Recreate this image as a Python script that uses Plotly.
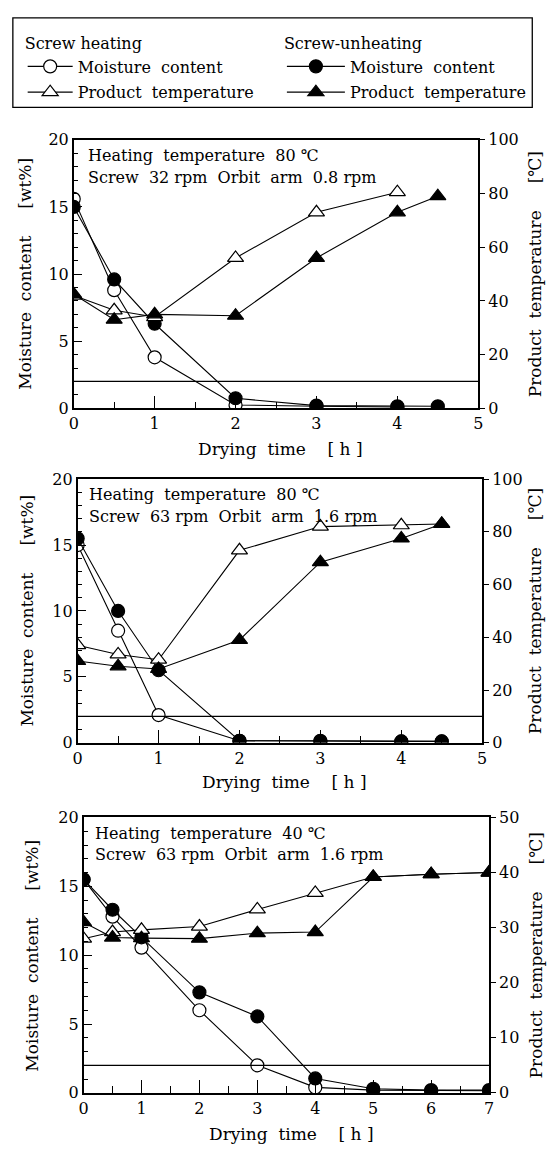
import plotly.graph_objects as go

# ---------------- data ----------------
# Panel 1: heating 80 C, screw 32 rpm, orbit arm 0.8 rpm
time_p1_heat = [0, 0.5, 1, 2, 3, 4]
moist_p1_heat = [15.6, 8.8, 3.8, 0.25, 0.15, 0.1]
temp_p1_heat = [42, 36.5, 34, 56, 73, 80.5]
time_p1_unheat = [0, 0.5, 1, 2, 3, 4, 4.5]
moist_p1_unheat = [15.0, 9.6, 6.3, 0.75, 0.2, 0.15, 0.15]
temp_p1_unheat = [42.5, 33, 35, 34.5, 56, 73, 79]

# Panel 2: heating 80 C, screw 63 rpm, orbit arm 1.6 rpm
time_p2_heat = [0, 0.5, 1, 2, 3, 4, 4.5]
moist_p2_heat = [15.0, 8.5, 2.1, 0.15, 0.1, 0.1, 0.1]
temp_p2_heat = [37, 33.5, 31.5, 73, 82, 82.5, 83]
time_p2_unheat = [0, 0.5, 1, 2, 3, 4, 4.5]
moist_p2_unheat = [15.5, 10.0, 5.5, 0.15, 0.15, 0.1, 0.1]
temp_p2_unheat = [31, 29, 28, 39, 68.5, 77.5, 83]

# Panel 3: heating 40 C, screw 63 rpm, orbit arm 1.6 rpm
time_p3_heat = [0, 0.5, 1, 2, 3, 4, 5, 6, 7]
moist_p3_heat = [15.5, 12.8, 10.55, 6.0, 2.0, 0.4, 0.2, 0.15, 0.15]
temp_p3_heat = [28, 29.2, 29.6, 30.2, 33.3, 36.3, 39.2, 39.7, 40]
time_p3_unheat = [0, 0.5, 1, 2, 3, 4, 5, 6, 7]
moist_p3_unheat = [15.5, 13.3, 11.3, 7.3, 5.55, 1.05, 0.3, 0.2, 0.2]
temp_p3_unheat = [31, 28.2, 28.1, 28, 29, 29.2, 39.2, 39.7, 40]

target_moisture = 2  # wt%

moisture_ticks = [0, 5, 10, 15, 20]
temp_ticks_80 = [0, 20, 40, 60, 80, 100]
temp_ticks_40 = [0, 10, 20, 30, 40, 50]
time_ticks_5 = [0, 1, 2, 3, 4, 5]
time_ticks_7 = [0, 1, 2, 3, 4, 5, 6, 7]

cond_lines = [
    ("Heating\u00a0 temperature\u00a0 80 \u2103", "Screw\u00a0 32 rpm\u00a0 Orbit\u00a0 arm\u00a0 0.8 rpm"),
    ("Heating\u00a0 temperature\u00a0 80 \u2103", "Screw\u00a0 63 rpm\u00a0 Orbit\u00a0 arm\u00a0 1.6 rpm"),
    ("Heating\u00a0 temperature\u00a0 40 \u2103", "Screw\u00a0 63 rpm\u00a0 Orbit\u00a0 arm\u00a0 1.6 rpm"),
]
legend_title_heat = "Screw heating"
legend_title_unheat = "Screw-unheating"
name_moist = "Moisture\u00a0 content"
name_temp = "Product\u00a0 temperature"
xlabel = "Drying\u00a0 time\u00a0\u00a0\u00a0 [ h ]"
ylabel_left = "Moisture\u00a0 content\u00a0\u00a0\u00a0\u00a0 [wt%]"
ylabel_right = "Product\u00a0 temperature\u00a0\u00a0\u00a0\u00a0 [\u2103]"

# ---------------- layout geometry (pixels) ----------------
W, H = 552, 1156
FONT = "DejaVu Serif"


def fx(px):
    return px / W


def fy(py):
    return 1 - py / H


panels = [
    dict(x0=70, x1=482, y0=133, y1=406, xmax=5, tmax=100,
         xt=time_ticks_5, tt=temp_ticks_80, xlab_y=447, ltx=20, rtx=540, condx=82, condy=149),
    dict(x0=74, x1=486, y0=478, y1=746, xmax=5, tmax=100,
         xt=time_ticks_5, tt=temp_ticks_80, xlab_y=786, ltx=22, rtx=540, condx=84, condy=494),
    dict(x0=80, x1=493, y0=822, y1=1102, xmax=7, tmax=50,
         xt=time_ticks_7, tt=temp_ticks_40, xlab_y=1144, ltx=28, rtx=541, condx=90, condy=838),
]

series = [
    (time_p1_heat, moist_p1_heat, temp_p1_heat, time_p1_unheat, moist_p1_unheat, temp_p1_unheat),
    (time_p2_heat, moist_p2_heat, temp_p2_heat, time_p2_unheat, moist_p2_unheat, temp_p2_unheat),
    (time_p3_heat, moist_p3_heat, temp_p3_heat, time_p3_unheat, moist_p3_unheat, temp_p3_unheat),
]

fig = go.Figure()
line_style = dict(color="black", width=1.1)
tickfont = dict(family=FONT, size=16, color="black")

layout_axes = {}
annotations = []
shapes = []

for i, (p, s) in enumerate(zip(panels, series)):
    xn = "" if i == 0 else str(i + 1)
    yl = "" if i == 0 else str(2 * i + 1)
    yr = str(2 * i + 2)
    th, mh, tph, tu, mu, tpu = s
    show = i == 0

    fig.add_trace(go.Scatter(
        x=th, y=mh, mode="lines+markers", name=name_moist, legend="legend", showlegend=show,
        legendgroup="hm", line=line_style,
        marker=dict(symbol="circle", size=13, color="white", line=dict(color="black", width=1.2)),
        xaxis="x" + xn, yaxis="y" + yl))
    fig.add_trace(go.Scatter(
        x=tu, y=mu, mode="lines+markers", name=name_moist, legend="legend2", showlegend=show,
        legendgroup="um", line=line_style,
        marker=dict(symbol="circle", size=13, color="black", line=dict(color="black", width=1.2)),
        xaxis="x" + xn, yaxis="y" + yl))
    fig.add_trace(go.Scatter(
        x=th, y=tph, mode="lines+markers", name=name_temp, legend="legend", showlegend=show,
        legendgroup="ht", line=line_style,
        marker=dict(symbol="triangle-up", size=14, color="white", line=dict(color="black", width=1.2)),
        xaxis="x" + xn, yaxis="y" + yr))
    fig.add_trace(go.Scatter(
        x=tu, y=tpu, mode="lines+markers", name=name_temp, legend="legend2", showlegend=show,
        legendgroup="ut", line=line_style,
        marker=dict(symbol="triangle-up", size=14, color="black", line=dict(color="black", width=1.2)),
        xaxis="x" + xn, yaxis="y" + yr))

    xdom = [fx(p["x0"]), fx(p["x1"])]
    ydom = [fy(p["y1"]), fy(p["y0"])]
    layout_axes["xaxis" + xn] = dict(
        domain=xdom, anchor="y" + yl, range=[0, p["xmax"]], tickvals=p["xt"],
        ticks="inside", ticklen=13, tickwidth=1.3, tickcolor="black",
        minor=dict(dtick=0.5, ticks="inside", ticklen=7, tickwidth=1.2, tickcolor="black"),
        showline=True, linecolor="black", linewidth=1.5, mirror=True,
        showgrid=False, zeroline=False, tickfont=tickfont, fixedrange=True)
    layout_axes["yaxis" + yl] = dict(
        domain=ydom, anchor="x" + xn, range=[0, 20], tickvals=moisture_ticks,
        ticks="inside", ticklen=9, tickwidth=1.3, tickcolor="black",
        minor=dict(dtick=1, ticks="inside", ticklen=5, tickwidth=1.1, tickcolor="black"),
        showline=True, linecolor="black", linewidth=1.5,
        showgrid=False, zeroline=False, tickfont=tickfont, fixedrange=True)
    layout_axes["yaxis" + yr] = dict(
        overlaying="y" + yl, anchor="x" + xn, side="right", range=[0, p["tmax"]], tickvals=p["tt"],
        ticks="outside", ticklen=5, tickwidth=1.3, tickcolor="black",
        showline=True, linecolor="black", linewidth=1.5,
        showgrid=False, zeroline=False, tickfont=tickfont, fixedrange=True)

    # target moisture line
    shapes.append(dict(type="line", xref="x" + xn + " domain", yref="y" + yl,
                       x0=0, x1=1, y0=target_moisture, y1=target_moisture,
                       line=dict(color="black", width=1.3)))

    cy = (p["y0"] + p["y1"]) / 2
    afont = dict(family=FONT, size=16, color="black")
    tfont = dict(family=FONT, size=17, color="black")
    annotations += [
        dict(text=xlabel, x=fx((p["x0"] + p["x1"]) / 2 + 5), y=fy(p["xlab_y"]), xref="paper", yref="paper",
             showarrow=False, font=tfont, xanchor="center", yanchor="middle"),
        dict(text=ylabel_left, x=fx(p["ltx"]), y=fy(cy), xref="paper", yref="paper", textangle=-90,
             showarrow=False, font=tfont, xanchor="center", yanchor="middle"),
        dict(text=ylabel_right, x=fx(p["rtx"]), y=fy(cy), xref="paper", yref="paper", textangle=-90,
             showarrow=False, font=tfont, xanchor="center", yanchor="middle"),
        dict(text=cond_lines[i][0], x=fx(p["condx"]), y=fy(p["condy"]), xref="paper", yref="paper",
             showarrow=False, font=afont, xanchor="left", yanchor="middle"),
        dict(text=cond_lines[i][1], x=fx(p["condx"]), y=fy(p["condy"] + 22), xref="paper", yref="paper",
             showarrow=False, font=afont, xanchor="left", yanchor="middle"),
    ]

# legend box
shapes.append(dict(type="rect", xref="paper", yref="paper", x0=fx(8), x1=fx(537), y0=fy(100), y1=fy(9),
                   line=dict(color="black", width=1.3), fillcolor="rgba(0,0,0,0)"))

legfont = dict(family=FONT, size=16, color="black")
fig.update_layout(
    width=W, height=H, margin=dict(l=0, r=0, t=0, b=0),
    paper_bgcolor="white", plot_bgcolor="white",
    annotations=annotations, shapes=shapes,
    legend=dict(x=fx(18), y=fy(20), xanchor="left", yanchor="top", font=legfont,
                title=dict(text=legend_title_heat, font=legfont), bgcolor="rgba(0,0,0,0)",
                traceorder="grouped", tracegroupgap=2, itemwidth=45,
                itemclick=False, itemdoubleclick=False),
    legend2=dict(x=fx(282), y=fy(20), xanchor="left", yanchor="top", font=legfont,
                 title=dict(text=legend_title_unheat, font=legfont), bgcolor="rgba(0,0,0,0)",
                 traceorder="grouped", tracegroupgap=2, itemwidth=58,
                 itemclick=False, itemdoubleclick=False),
    **layout_axes,
)

fig.write_html("out.html", config={"displayModeBar": False},
               post_script="document.body.style.margin='0';document.body.style.overflow='hidden';")
